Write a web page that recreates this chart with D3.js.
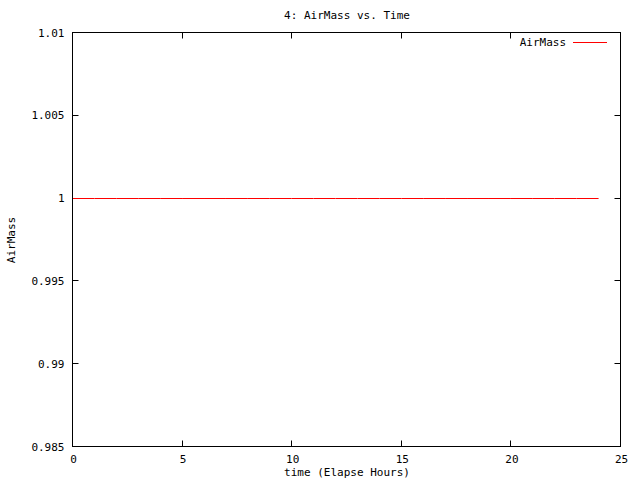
<!DOCTYPE html>
<html>
<head>
<meta charset="utf-8">
<script src="https://cdn.jsdelivr.net/npm/d3@7"></script>
<style>
  body { margin: 0; background: #fff; }
  text { font-family: "DejaVu Sans Mono", "Liberation Mono", monospace; font-size: 11px; fill: #000; }
</style>
</head>
<body>
<svg width="640" height="480"></svg>
<script>
// data
var times = [0, 1, 2, 3, 4, 5, 6, 7, 8, 9, 10, 11, 12, 13, 14, 15, 16, 17, 18, 19, 20, 21, 22, 23, 24];
var airMass = [1, 1, 1, 1, 1, 1, 1, 1, 1, 1, 1, 1, 1, 1, 1, 1, 1, 1, 1, 1, 1, 1, 1, 1, 1];
var xTicks = [0, 5, 10, 15, 20, 25];
var yTicks = [0.985, 0.99, 0.995, 1, 1.005, 1.01];

var svg = d3.select('svg');
var plotLeft = 72.5, plotRight = 620.5, plotTop = 32.5, plotBottom = 446.5;

var x = d3.scaleLinear().domain([0, 25]).range([plotLeft, plotRight]);
var y = d3.scaleLinear().domain([0.985, 1.01]).range([plotBottom, plotTop]);

var fmt = function(d) { return String(+d.toFixed(3)); };

// ticks (inward, mirrored)
var g = svg.append('g').attr('stroke', '#000').attr('stroke-width', 1);
xTicks.forEach(function(t) {
  var px = Math.floor(x(t)) + 0.5;
  g.append('line').attr('x1', px).attr('x2', px).attr('y1', plotBottom).attr('y2', plotBottom - 6);
  g.append('line').attr('x1', px).attr('x2', px).attr('y1', plotTop).attr('y2', plotTop + 6);
});
yTicks.forEach(function(t) {
  var py = Math.floor(y(t)) + 0.5;
  g.append('line').attr('x1', plotLeft).attr('x2', plotLeft + 6).attr('y1', py).attr('y2', py);
  g.append('line').attr('x1', plotRight).attr('x2', plotRight - 6).attr('y1', py).attr('y2', py);
});

// tick labels
svg.selectAll('.xl').data(xTicks).enter().append('text')
  .attr('x', function(d) { return x(d) + 1; })
  .attr('y', plotBottom + 16)
  .attr('text-anchor', 'middle')
  .text(fmt);
svg.selectAll('.yl').data(yTicks).enter().append('text')
  .attr('x', plotLeft - 8)
  .attr('y', function(d) { return y(d) + 4; })
  .attr('text-anchor', 'end')
  .text(fmt);

// series
var line = d3.line()
  .x(function(d, i) { return x(times[i]); })
  .y(function(d) { return Math.floor(y(d)) + 0.5; });
svg.append('path')
  .datum(airMass)
  .attr('d', line)
  .attr('fill', 'none')
  .attr('stroke', '#ff0000')
  .attr('stroke-width', 1);

// border
svg.append('rect')
  .attr('x', plotLeft).attr('y', plotTop)
  .attr('width', plotRight - plotLeft).attr('height', plotBottom - plotTop)
  .attr('fill', 'none').attr('stroke', '#000');

// legend
svg.append('text').attr('x', 566).attr('y', 46).attr('text-anchor', 'end').text('AirMass');
svg.append('line').attr('x1', 573).attr('x2', 607).attr('y1', 42.5).attr('y2', 42.5)
  .attr('stroke', '#ff0000');

// titles
svg.append('text').attr('x', 347).attr('y', 19).attr('text-anchor', 'middle').text('4: AirMass vs. Time');
svg.append('text').attr('x', 347).attr('y', 476).attr('text-anchor', 'middle').text('time (Elapse Hours)');
svg.append('text').attr('transform', 'translate(15,240) rotate(-90)').attr('text-anchor', 'middle').text('AirMass');
</script>
</body>
</html>
